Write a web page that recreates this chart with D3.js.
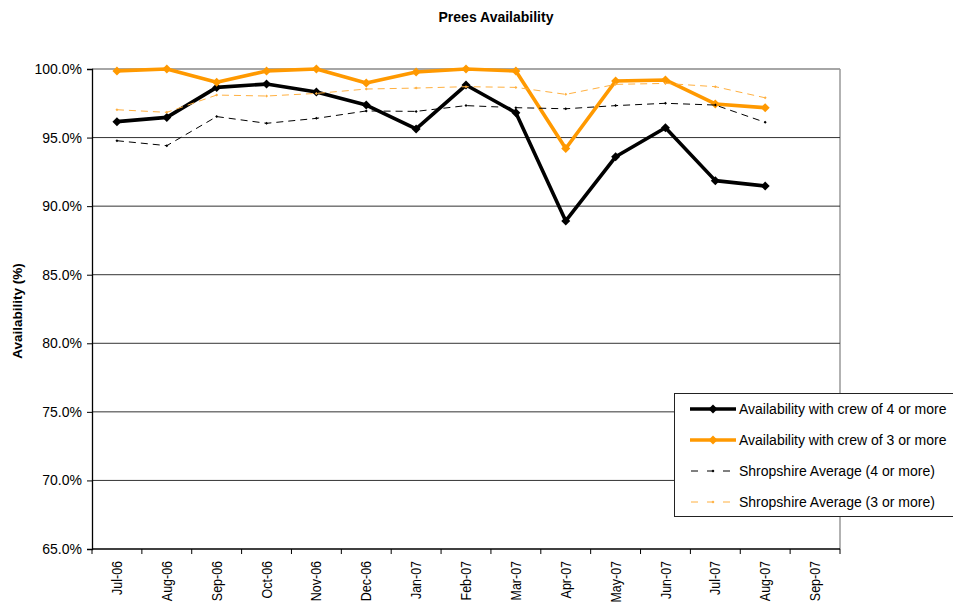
<!DOCTYPE html>
<html>
<head>
<meta charset="utf-8">
<script src="https://cdn.jsdelivr.net/npm/d3@7"></script>
<style>
  html, body { margin: 0; padding: 0; background: #fff; }
  svg { display: block; font-family: Arial, "Liberation Sans", sans-serif; }
</style>
</head>
<body>
<svg id="chart" width="953" height="609"></svg>
<script>
// Monthly categories along the x axis
const months = ["Jul-06","Aug-06","Sep-06","Oct-06","Nov-06","Dec-06","Jan-07",
                "Feb-07","Mar-07","Apr-07","May-07","Jun-07","Jul-07","Aug-07","Sep-07"];

// Availability (%) per month; Sep-07 has no figures yet
const crew4 = [96.16, 96.47, 98.66, 98.9, 98.32, 97.37, 95.63, 98.83, 96.81, 88.92, 93.6, 95.72, 91.86, 91.47, null];
const crew3 = [99.86, 100.0, 99.03, 99.86, 100.0, 98.98, 99.78, 100.0, 99.85, 94.2, 99.12, 99.2, 97.45, 97.18, null];
const shropAvg4 = [94.77, 94.41, 96.53, 96.04, 96.4, 96.94, 96.91, 97.33, 97.18, 97.1, 97.33, 97.5, 97.37, 96.11, null];
const shropAvg3 = [97.03, 96.84, 98.1, 98.03, 98.22, 98.54, 98.61, 98.71, 98.66, 98.15, 98.88, 98.95, 98.71, 97.9, null];

const yTicks = [65, 70, 75, 80, 85, 90, 95, 100];

const seriesNames = [
  "Availability with crew of 4 or more",
  "Availability with crew of 3 or more",
  "Shropshire Average (4 or more)",
  "Shropshire Average (3 or more)"
];

const series = [
  { name: seriesNames[0], values: crew4,     color: "#000000", width: 3.6, dash: null,  marker: 9 },
  { name: seriesNames[1], values: crew3,     color: "#FF9900", width: 3.6, dash: null,  marker: 9 },
  { name: seriesNames[2], values: shropAvg4, color: "#000000", width: 1,   dash: "7,5", marker: 3 },
  { name: seriesNames[3], values: shropAvg3, color: "#FFB040", width: 1,   dash: "7,5", marker: 3 }
];

const svg = d3.select("#chart");
const plot = { left: 92, right: 840, top: 69, bottom: 549 };

const x = d3.scaleBand().domain(months).range([plot.left, plot.right]);
const y = d3.scaleLinear().domain([65, 100]).range([plot.bottom, plot.top]);
const cx = m => x(m) + x.bandwidth() / 2;

// Title
svg.append("text")
  .attr("x", 496).attr("y", 22)
  .attr("text-anchor", "middle")
  .attr("font-size", 14).attr("font-weight", "bold")
  .text("Prees Availability");

// Plot frame (top and right edges in grey)
svg.append("line")
  .attr("x1", plot.left).attr("x2", plot.right)
  .attr("y1", y(100)).attr("y2", y(100))
  .attr("stroke", "#888").attr("stroke-width", 1.5);
svg.append("line")
  .attr("x1", plot.right).attr("x2", plot.right)
  .attr("y1", plot.top).attr("y2", plot.bottom)
  .attr("stroke", "#999").attr("stroke-width", 1.5);

// Horizontal gridlines
svg.append("g").selectAll("line")
  .data(yTicks.filter(t => t > 65 && t < 100))
  .join("line")
  .attr("x1", plot.left).attr("x2", plot.right)
  .attr("y1", d => y(d)).attr("y2", d => y(d))
  .attr("stroke", "#333").attr("stroke-width", 1);

// Y axis
const yAxis = svg.append("g")
  .attr("transform", `translate(${plot.left},0)`)
  .call(d3.axisLeft(y).tickValues(yTicks).tickSize(5).tickPadding(5)
        .tickFormat(d => d.toFixed(1) + "%"));
yAxis.select(".domain").attr("stroke", "#000").attr("stroke-width", 1.3);
yAxis.selectAll(".tick line").attr("stroke", "#000");
yAxis.selectAll(".tick text").attr("font-size", 14).attr("fill", "#000")
  .attr("font-family", "Arial, 'Liberation Sans', sans-serif");

// X axis: baseline, tick marks at category boundaries, rotated labels
svg.append("line")
  .attr("x1", plot.left).attr("x2", plot.right)
  .attr("y1", plot.bottom).attr("y2", plot.bottom)
  .attr("stroke", "#000").attr("stroke-width", 1.3);
const bounds = months.map(m => x(m)).concat([x(months[months.length - 1]) + x.bandwidth()]);
svg.append("g").selectAll("line")
  .data(bounds)
  .join("line")
  .attr("x1", d => d).attr("x2", d => d)
  .attr("y1", plot.bottom).attr("y2", plot.bottom + 5)
  .attr("stroke", "#000");
svg.append("g").selectAll("text")
  .data(months)
  .join("text")
  .attr("transform", d => `translate(${cx(d)},${plot.bottom + 12}) rotate(-90) scale(0.89,1)`)
  .attr("text-anchor", "end")
  .attr("dy", "0.36em")
  .attr("font-size", 14)
  .text(d => d);

// Y axis title
svg.append("text")
  .attr("transform", `translate(22,${(plot.top + plot.bottom) / 2 + 2}) rotate(-90)`)
  .attr("text-anchor", "middle")
  .attr("font-size", 13.5).attr("font-weight", "bold")
  .text("Availability (%)");

// Series lines and markers
const diamond = s => `M0,${-s / 2}L${s / 2},0L0,${s / 2}L${-s / 2},0Z`;
series.forEach(s => {
  const pts = months.map((m, i) => ({ m, v: s.values[i] })).filter(p => p.v != null);
  const line = d3.line().x(p => cx(p.m)).y(p => y(p.v));
  svg.append("path")
    .datum(pts)
    .attr("d", line)
    .attr("fill", "none")
    .attr("stroke", s.color)
    .attr("stroke-width", s.width)
    .attr("stroke-linejoin", "round")
    .attr("stroke-dasharray", s.dash);
  svg.append("g").selectAll("path")
    .data(pts)
    .join("path")
    .attr("transform", p => `translate(${cx(p.m)},${y(p.v)})`)
    .attr("d", diamond(s.marker))
    .attr("fill", s.color);
});

// Legend
const lg = svg.append("g");
lg.append("rect")
  .attr("x", 674.5).attr("y", 393.5).attr("width", 290).attr("height", 123)
  .attr("fill", "#fff").attr("stroke", "#222").attr("stroke-width", 1);
const rowY = [409, 440, 471, 502];
series.forEach((s, i) => {
  const ry = rowY[i];
  lg.append("line")
    .attr("x1", 690).attr("x2", 736)
    .attr("y1", ry).attr("y2", ry)
    .attr("stroke", s.color)
    .attr("stroke-width", s.width)
    .attr("stroke-dasharray", s.dash ? "7,9" : null)
    .attr("stroke-dashoffset", s.dash ? -1 : null);
  lg.append("path")
    .attr("transform", `translate(713,${ry})`)
    .attr("d", diamond(s.marker))
    .attr("fill", s.color);
  lg.append("text")
    .attr("x", 739).attr("y", ry)
    .attr("dy", "0.36em")
    .attr("font-size", 14)
    .text(s.name);
});
</script>
</body>
</html>
